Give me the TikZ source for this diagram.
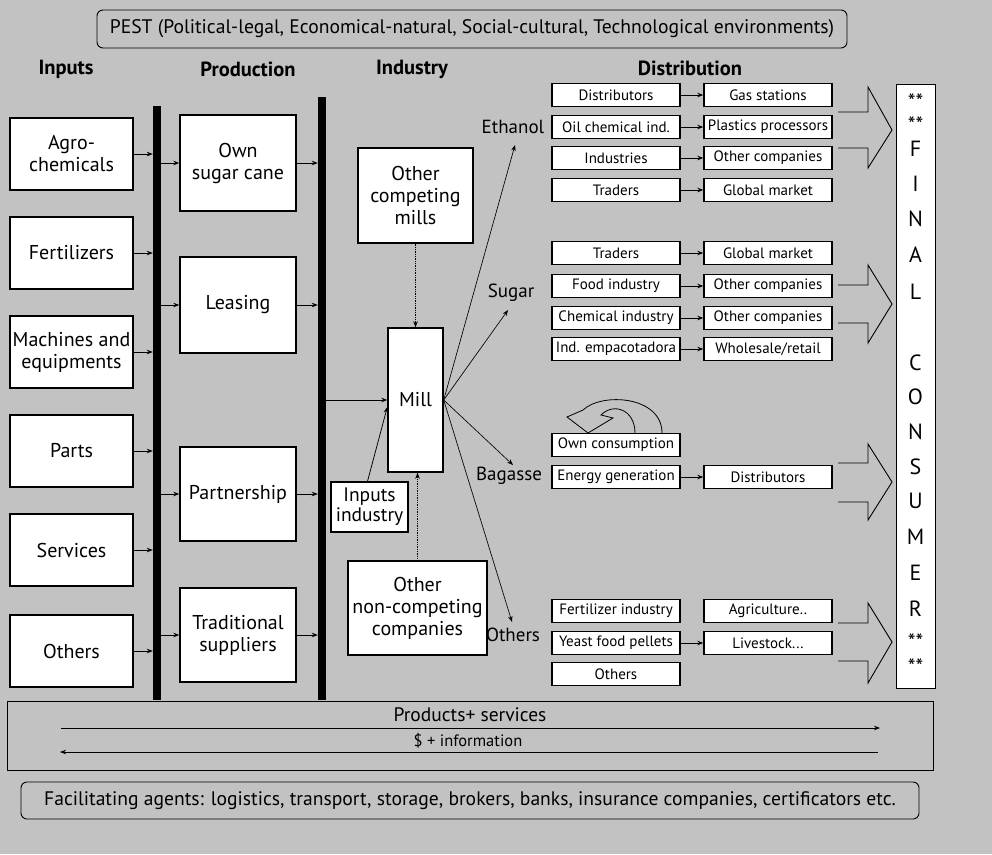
\documentclass[tikz,border=0pt]{standalone}
\usepackage{fontspec}
\setmainfont{PT Sans}
\usetikzlibrary{arrows.meta}
\definecolor{bg}{RGB}{194,194,194}
\begin{document}
\begin{tikzpicture}[x=1pt,y=-1pt,
  box/.style={draw, fill=white, line width=1.4pt, inner sep=0pt, align=center, font=\fontsize{20}{22}\selectfont},
  inbox/.style={box, minimum width=123pt, minimum height=72pt},
  prodbox/.style={box, minimum width=116pt},
  dbox/.style={draw, fill=white, line width=1.4pt, inner sep=0pt, minimum width=128pt, minimum height=23pt, font=\fontsize{15}{17}\selectfont},
  hdr/.style={font=\bfseries\fontsize{20.5}{22}\selectfont, inner sep=0pt},
  lab/.style={font=\fontsize{19}{21}\selectfont, inner sep=0pt},
  arr/.style={-{Stealth[length=6pt,width=4.5pt]}, line width=0.75pt},
  darr/.style={arr, densely dotted, line width=1.3pt},
  barst/.style={fill=black, inner sep=0pt, minimum width=8pt},
  blk/.style={draw, line width=0.9pt, line join=miter},
  fcl/.style={font=\fontsize{22}{22}\selectfont, inner sep=0pt, text height=15pt, text depth=0pt},
]
\fill[bg] (0,0) rectangle (992,854);
\useasboundingbox (0,0) rectangle (992,854);

% PEST
\node[draw, rounded corners=6pt, line width=0.9pt, minimum width=750pt, minimum height=38pt, inner sep=0pt, font=\fontsize{19.6}{21}\selectfont] (pest) at (472,29) {PEST (Political-legal, Economical-natural, Social-cultural, Technological environments)};

% headers
\node[hdr] (hin) at (66,69) {Inputs};
\node[hdr] (hpr) at (248,69) {Production};
\node[hdr] (hind) at (412,69) {Industry};
\node[hdr] (hdi) at (690,68) {Distribution};

% bars
\node[barst, minimum height=594pt] (bar1) at (157,403) {};
\node[barst, minimum height=603pt] (bar2) at (322,398.5) {};

% inputs
\node[inbox] (agro) at (71.5,154) {Agro-\\chemicals};
\node[inbox] (fert) at (71.5,253) {Fertilizers};
\node[inbox] (mach) at (71.5,352) {Machines and\\equipments};
\node[inbox] (parts) at (71.5,451) {Parts};
\node[inbox] (serv) at (71.5,550) {Services};
\node[inbox] (oth) at (71.5,651) {Others};
\foreach \n in {agro,fert,mach,parts,serv,oth}
  \draw[arr] (\n.east) -- (\n.east -| bar1.west);

% production
\node[prodbox, minimum height=96pt] (own) at (238,163) {Own\\sugar cane};
\node[prodbox, minimum height=96pt] (leas) at (238,305) {Leasing};
\node[prodbox, minimum height=94pt] (part) at (238,494) {Partnership};
\node[prodbox, minimum height=94pt] (trad) at (238,635) {Traditional\\suppliers};
\foreach \n in {own,leas,part,trad}{
  \draw[arr] (bar1.east |- \n.west) -- (\n.west);
  \draw[arr] (\n.east) -- (\n.east -| bar2.west);
}

% industry
\node[box, minimum width=115pt, minimum height=95pt] (ocm) at (415.5,195.5) {Other\\competing\\mills};
\node[box, minimum width=55pt, minimum height=144pt] (mill) at (415.5,400) {Mill};
\node[box, minimum width=77pt, minimum height=50pt, font=\fontsize{19.5}{20}\selectfont] (inind) at (369.5,507) {Inputs\\industry};
\node[box, minimum width=139pt, minimum height=94pt] (oncc) at (417.5,608) {Other\\non-competing\\companies};
\draw[darr] (ocm.south) -- (mill.north);
\draw[darr] (oncc.north) -- (oncc.north |- mill.south);
\draw[arr] (bar2.east |- mill.west) -- (mill.west);
\draw[arr] ([xshift=-2pt]inind.north) -- ([yshift=-7pt]mill.west);

% product labels
\node[lab] (leth) at (513,127) {Ethanol};
\node[lab] (lsug) at (511,293) {Sugar};
\node[lab] (lbag) at (509,476) {Bagasse};
\node[lab] (loth) at (513,635) {Others};
\coordinate (teth) at (515,145);
\coordinate (tsug) at (508,310);
\coordinate (tbag) at (513,465);
\coordinate (toth) at (512,622);
\foreach \t in {teth,tsug,tbag,toth}
  \draw[arr, line width=0.65pt] (mill.east) -- (\t);

% distribution
\foreach \nm/\y/\a/\b in {
  e1/95/Distributors/Gas stations,
  e2/127/Oil chemical ind./Plastics processors,
  e3/158/Industries/Other companies,
  e4/190/Traders/Global market,
  s1/253/Traders/Global market,
  s2/286/Food industry/Other companies,
  s3/318/Chemical industry/Other companies,
  s4/349/Ind. empacotadora/Wholesale\slash retail}{
  \node[dbox] (\nm l) at (616,\y) {\a};
  \node[dbox] (\nm r) at (768,\y) {\b};
  \draw[arr] (\nm l) -- (\nm r);
}
\node[dbox] (b1l) at (616,445) {Own consumption};
\node[dbox] (b2l) at (616,477) {Energy generation};
\node[dbox] (b2r) at (768,477) {Distributors};
\draw[arr] (b2l) -- (b2r);
\node[dbox] (o1l) at (616,611) {Fertilizer industry};
\node[dbox] (o1r) at (768,611) {Agriculture..};
\node[dbox] (o2l) at (616,643) {Yeast food pellets};
\node[dbox] (o2r) at (768,643) {Livestock...};
\node[dbox] (o3l) at (616,674) {Others};
\draw[arr] (o2l) -- (o2r);

% own consumption curved arrow
\draw[blk, line width=0.8pt] (662,433) .. controls (662,396) and (602,392) .. (583,410) -- (567,417) -- (588,433) -- (613,418) -- (601,415) .. controls (614,402) and (635,410) .. (635,433);

% block arrows
\draw[blk] (838,112) -- (868,112) -- (868,87) -- (892,130) -- (868,168) -- (868,148) -- (838,148);
\draw[blk] (838,285) -- (868,285) -- (868,265) -- (892,304) -- (868,343) -- (868,323) -- (838,323);
\draw[blk] (838,463) -- (868,463) -- (868,444) -- (892,482) -- (868,520) -- (868,502) -- (838,502);
\draw[blk] (838,623) -- (868,623) -- (868,603) -- (892,642) -- (868,683) -- (868,661) -- (838,661);

% final consumer
\node[draw, fill=white, line width=0.9pt, minimum width=39pt, minimum height=604pt, inner sep=0pt] (fc) at (915.5,386) {};
\foreach \l/\y [count=\i] in {**/102,**/125,F/149,I/184,N/219,A/255,L/292,C/363,O/397,N/432,S/467,U/501,M/537,E/573,R/609,**/642,**/667}
  \node[fcl] (fc\i) at (915.5,\y) {\l};

% products / information box
\node[draw, line width=1pt, minimum width=926pt, minimum height=69pt, inner sep=0pt] (pbox) at (470,735.5) {};
\node[font=\fontsize{19.5}{20}\selectfont, inner sep=0pt] (pst) at (470,715) {Products+ services};
\node[font=\fontsize{16.5}{18}\selectfont, inner sep=0pt] (inf) at (468,741) {\$ + information};
\coordinate (pa1) at (61,728);
\coordinate (pa2) at (880,728);
\coordinate (pb1) at (878,752);
\coordinate (pb2) at (60,752);
\draw[arr] (pa1) -- (pa2);
\draw[arr] (pb1) -- (pb2);

% facilitating
\node[draw, rounded corners=6pt, line width=0.9pt, minimum width=898pt, minimum height=37pt, inner sep=0pt, font=\fontsize{19.6}{21}\selectfont] (fac) at (470,800.5) {Facilitating agents: logistics, transport, storage, brokers, banks, insurance companies, certificators etc.};
\end{tikzpicture}
\end{document}
